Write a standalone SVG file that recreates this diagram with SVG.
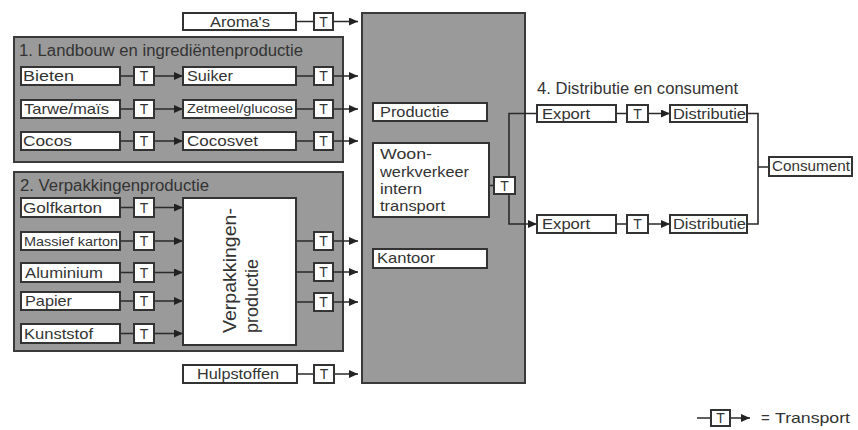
<svg xmlns="http://www.w3.org/2000/svg" width="858" height="430" viewBox="0 0 858 430">
<style>
.grp{fill:#9a9a9a;stroke:#3a3a3a;stroke-width:2}
.box{fill:#fff;stroke:#333;stroke-width:2}
.ln{fill:none;stroke:#2a2a2a;stroke-width:1.6}
.ar{marker-end:url(#ah)}
text{font-family:"Liberation Sans",Arial,sans-serif;fill:#333;font-size:15px}
.ttl{font-size:16px}
.tc{text-anchor:middle;font-size:14px}
</style>
<defs>
<marker id="ah" markerUnits="userSpaceOnUse" markerWidth="9" markerHeight="8" refX="9" refY="4" orient="auto"><path d="M0,0 L9,4 L0,8 z" fill="#222"/></marker>
</defs>
<g id="group1"><rect class="grp" x="14" y="37" width="329" height="125"/><text class="ttl" x="19" y="56" textLength="284" lengthAdjust="spacingAndGlyphs">1. Landbouw en ingrediëntenproductie</text></g>
<g id="group2"><rect class="grp" x="14" y="172" width="329" height="179"/><text class="ttl" x="20" y="191" textLength="189" lengthAdjust="spacingAndGlyphs">2. Verpakkingenproductie</text></g>
<g id="central"><rect class="grp" x="362" y="13" width="163" height="370"/></g>
<g id="connectors">
<path class="ln ar" d="M296,21.5H314M333,21.5H358"/>
<path class="ln ar" d="M120,76H134M154,76H183"/>
<path class="ln ar" d="M296,76H314M333,76H358"/>
<path class="ln ar" d="M120,109H134M154,109H183"/>
<path class="ln ar" d="M296,109H314M333,109H358"/>
<path class="ln ar" d="M120,141H134M154,141H183"/>
<path class="ln ar" d="M296,141H314M333,141H358"/>
<path class="ln ar" d="M120,207.5H134M154,207.5H183"/>
<path class="ln ar" d="M120,241H134M154,241H183"/>
<path class="ln ar" d="M120,272.5H134M154,272.5H183"/>
<path class="ln ar" d="M120,301H134M154,301H183"/>
<path class="ln ar" d="M120,333.5H134M154,333.5H183"/>
<path class="ln ar" d="M296,241H314M333,241H358"/>
<path class="ln ar" d="M296,272H314M333,272H358"/>
<path class="ln ar" d="M296,302H314M333,302H358"/>
<path class="ln ar" d="M297,374H314M334,374H358"/>
<path class="ln" d="M489,185.5H494"/>
<path class="ln ar" d="M537,113.5H509V224H537"/>
<path class="ln ar" d="M616,113.5H627M648,113.5H670"/>
<path class="ln ar" d="M616,224H627M648,224H670"/>
<path class="ln" d="M747,113.5H758V224H747M758,167H769"/>
<path class="ln ar" d="M697,418H711M730,418H750"/>
</g>
<g id="aromas"><rect class="box" x="183" y="13" width="113" height="17"/><text x="210" y="27" textLength="60" lengthAdjust="spacingAndGlyphs">Aroma's</text></g>
<g id="t-aromas"><rect class="box" x="314" y="13" width="19" height="17"/><text class="tc" x="323.5" y="27">T</text></g>
<g id="bieten"><rect class="box" x="21" y="67" width="99" height="18"/><text x="23" y="81" textLength="51" lengthAdjust="spacingAndGlyphs">Bieten</text></g>
<g id="t-bieten"><rect class="box" x="134" y="67" width="20" height="18"/><text class="tc" x="144" y="81">T</text></g>
<g id="suiker"><rect class="box" x="183" y="67" width="113" height="18"/><text x="187" y="81" textLength="46" lengthAdjust="spacingAndGlyphs">Suiker</text></g>
<g id="t-suiker"><rect class="box" x="314" y="67" width="19" height="18"/><text class="tc" x="323.5" y="81">T</text></g>
<g id="tarwe"><rect class="box" x="21" y="100" width="99" height="18"/><text x="24" y="114" textLength="85" lengthAdjust="spacingAndGlyphs">Tarwe/maïs</text></g>
<g id="t-tarwe"><rect class="box" x="134" y="100" width="20" height="18"/><text class="tc" x="144" y="114">T</text></g>
<g id="zetmeel"><rect class="box" x="183" y="100" width="113" height="18"/><text x="187" y="113" style="font-size:12px" textLength="106" lengthAdjust="spacingAndGlyphs">Zetmeel/glucose</text></g>
<g id="t-zetmeel"><rect class="box" x="314" y="100" width="19" height="18"/><text class="tc" x="323.5" y="114">T</text></g>
<g id="cocos"><rect class="box" x="21" y="132" width="99" height="18"/><text x="23" y="146" textLength="49" lengthAdjust="spacingAndGlyphs">Cocos</text></g>
<g id="t-cocos"><rect class="box" x="134" y="132" width="20" height="18"/><text class="tc" x="144" y="146">T</text></g>
<g id="cocosvet"><rect class="box" x="183" y="132" width="113" height="18"/><text x="187" y="146" textLength="71" lengthAdjust="spacingAndGlyphs">Cocosvet</text></g>
<g id="t-cocosvet"><rect class="box" x="314" y="132" width="19" height="18"/><text class="tc" x="323.5" y="146">T</text></g>
<g id="golfkarton"><rect class="box" x="21" y="198" width="99" height="19"/><text x="23" y="212.5" textLength="79" lengthAdjust="spacingAndGlyphs">Golfkarton</text></g>
<g id="t-golfkarton"><rect class="box" x="134" y="198" width="20" height="19"/><text class="tc" x="144" y="212.5">T</text></g>
<g id="massief"><rect class="box" x="21" y="232" width="99" height="18"/><text x="24" y="245.5" style="font-size:12.5px" textLength="94" lengthAdjust="spacingAndGlyphs">Massief karton</text></g>
<g id="t-massief"><rect class="box" x="134" y="232" width="20" height="18"/><text class="tc" x="144" y="246">T</text></g>
<g id="aluminium"><rect class="box" x="21" y="263" width="99" height="19"/><text x="25" y="277.5" textLength="78" lengthAdjust="spacingAndGlyphs">Aluminium</text></g>
<g id="t-aluminium"><rect class="box" x="134" y="263" width="20" height="19"/><text class="tc" x="144" y="277.5">T</text></g>
<g id="papier"><rect class="box" x="21" y="292" width="99" height="18"/><text x="25" y="306" textLength="47" lengthAdjust="spacingAndGlyphs">Papier</text></g>
<g id="t-papier"><rect class="box" x="134" y="292" width="20" height="18"/><text class="tc" x="144" y="306">T</text></g>
<g id="kunststof"><rect class="box" x="21" y="324" width="99" height="19"/><text x="24" y="338.5" textLength="69" lengthAdjust="spacingAndGlyphs">Kunststof</text></g>
<g id="t-kunststof"><rect class="box" x="134" y="324" width="20" height="19"/><text class="tc" x="144" y="338.5">T</text></g>
<g id="verpakkingen"><rect class="box" x="183" y="198" width="113" height="147"/><text transform="translate(236,333) rotate(-90)" style="font-size:18px" textLength="125" lengthAdjust="spacingAndGlyphs">Verpakkingen-</text><text transform="translate(258,333) rotate(-90)" style="font-size:18px">productie</text></g>
<g id="t-out1"><rect class="box" x="314" y="232" width="19" height="18"/><text class="tc" x="323.5" y="246">T</text></g>
<g id="t-out2"><rect class="box" x="314" y="263" width="19" height="18"/><text class="tc" x="323.5" y="277">T</text></g>
<g id="t-out3"><rect class="box" x="314" y="293" width="19" height="18"/><text class="tc" x="323.5" y="307">T</text></g>
<g id="hulpstoffen"><rect class="box" x="183" y="365" width="114" height="18"/><text x="197" y="379" textLength="82" lengthAdjust="spacingAndGlyphs">Hulpstoffen</text></g>
<g id="t-hulpstoffen"><rect class="box" x="314" y="365" width="20" height="18"/><text class="tc" x="324" y="379">T</text></g>
<g id="productie"><rect class="box" x="373" y="103" width="114" height="18"/><text x="380" y="117" textLength="69" lengthAdjust="spacingAndGlyphs">Productie</text></g>
<g id="woon"><rect class="box" x="373" y="143" width="116" height="74"/><text x="380" y="159" textLength="52" lengthAdjust="spacingAndGlyphs">Woon-</text><text x="380" y="177" textLength="89" lengthAdjust="spacingAndGlyphs">werkverkeer</text><text x="380" y="194" textLength="42" lengthAdjust="spacingAndGlyphs">intern</text><text x="380" y="211" textLength="65" lengthAdjust="spacingAndGlyphs">transport</text></g>
<g id="t-woon"><rect class="box" x="494" y="177" width="21" height="17"/><text class="tc" x="504.5" y="191">T</text></g>
<g id="kantoor"><rect class="box" x="373" y="249" width="114" height="19"/><text x="377" y="263" textLength="58" lengthAdjust="spacingAndGlyphs">Kantoor</text></g>
<g id="title4"><text class="ttl" x="537" y="94" textLength="201" lengthAdjust="spacingAndGlyphs">4. Distributie en consument</text></g>
<g id="export1"><rect class="box" x="537" y="105" width="79" height="17"/><text x="542" y="119" textLength="48" lengthAdjust="spacingAndGlyphs">Export</text></g>
<g id="t-export1"><rect class="box" x="627" y="105" width="21" height="17"/><text class="tc" x="637.5" y="119">T</text></g>
<g id="distributie1"><rect class="box" x="670" y="105" width="77" height="17"/><text x="673" y="119" textLength="73" lengthAdjust="spacingAndGlyphs">Distributie</text></g>
<g id="export2"><rect class="box" x="537" y="215" width="79" height="18"/><text x="542" y="229" textLength="48" lengthAdjust="spacingAndGlyphs">Export</text></g>
<g id="t-export2"><rect class="box" x="627" y="215" width="21" height="18"/><text class="tc" x="637.5" y="229">T</text></g>
<g id="distributie2"><rect class="box" x="670" y="215" width="77" height="18"/><text x="673" y="229" textLength="73" lengthAdjust="spacingAndGlyphs">Distributie</text></g>
<g id="consument"><rect class="box" x="769" y="157" width="83" height="19"/><text x="772" y="171" textLength="78" lengthAdjust="spacingAndGlyphs">Consument</text></g>
<g id="legend"><rect class="box" x="711" y="410" width="19" height="16"/><text class="tc" x="720.5" y="423">T</text><text x="761" y="423">=</text><text x="775" y="423" textLength="75" lengthAdjust="spacingAndGlyphs">Transport</text></g>
</svg>
